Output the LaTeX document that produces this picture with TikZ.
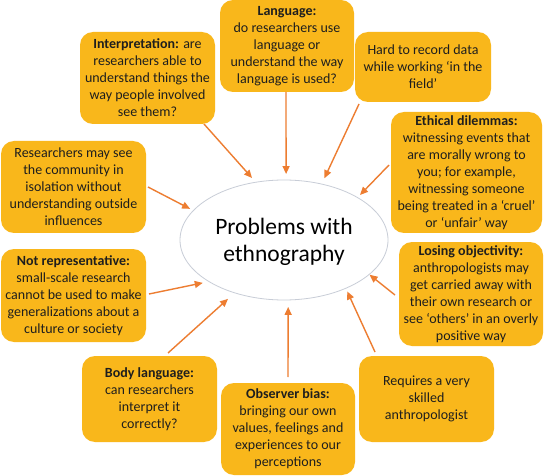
\documentclass[tikz,border=0pt]{standalone}
\usepackage{fontspec}
\setmainfont{Carlito}
\usetikzlibrary{arrows.meta,shapes.geometric}
\definecolor{boxfill}{RGB}{249,183,27}
\definecolor{arrowc}{RGB}{237,125,49}
\definecolor{ellc}{RGB}{200,205,215}
\definecolor{txt}{RGB}{30,30,30}
\begin{document}
\begin{tikzpicture}[x=1pt,y=-1pt,
  box/.style={fill=boxfill,rounded corners=13pt,inner sep=0pt,outer sep=0pt,align=center,
    text=txt,font=\fontsize{14}{17}\selectfont},
  conn/.style={draw=arrowc,line width=1.4pt,-{Triangle[length=8pt,width=7pt]}},
  hub/.style={ellipse,draw=ellc,line width=0.8pt,inner sep=0pt,outer sep=0pt,align=center,
    text depth=0pt,font=\fontsize{23.5}{27}\selectfont}]
\useasboundingbox (0,0) rectangle (544,476);
\fill[white] (0,0) rectangle (544,476);

\node[hub,minimum width=208pt,minimum height=120pt] (center) at (284,240) {Problems with\\ethnography};

\node[box,minimum width=134pt,minimum height=92pt] (lang) at (287,46)
  {\textbf{Language:}\\do researchers use\\language or\\understand the way\\language is used?};
\node[box,minimum width=135pt,minimum height=92pt] (interp) at (147.5,78)
  {\textbf{Interpretation:} are\\researchers able to\\understand things the\\way people involved\\see them?};
\node[box,minimum width=136pt,minimum height=70pt] (hard) at (423,67)
  {Hard to record data\\while working ‘in the\\field’};
\node[box,minimum width=151pt,minimum height=121pt] (ethic) at (466.5,172.5)
  {\textbf{Ethical dilemmas:}\\witnessing events that\\are morally wrong to\\you; for example,\\witnessing someone\\being treated in a ‘cruel’\\or ‘unfair’ way};
\node[box,minimum width=144pt,minimum height=104pt] (losing) at (471,294)
  {\textbf{Losing objectivity:}\\anthropologists may\\get carried away with\\their own research or\\see ‘others’ in an overly\\positive way};
\node[box,minimum width=145pt,minimum height=92pt] (research) at (73.5,187)
  {Researchers may see\\the community in\\isolation without\\understanding outside\\influences};
\node[box,minimum width=145pt,minimum height=93pt] (notrep) at (73.5,295.5)
  {\textbf{Not representative:}\\small-scale research\\cannot be used to make\\generalizations about a\\culture or society};
\node[box,minimum width=135pt,minimum height=86pt] (body) at (149.5,399)
  {\textbf{Body language:}\\can researchers\\interpret it\\correctly?};
\node[box,minimum width=134pt,minimum height=92pt] (observer) at (288,429)
  {\textbf{Observer bias:}\\bringing our own\\values, feelings and\\experiences to our\\perceptions};
\node[box,minimum width=135pt,minimum height=86pt] (requires) at (426.5,399)
  {Requires a very\\skilled\\anthropologist};

\draw[conn,shorten >=5.7pt] ([xshift=56.5pt]interp.south) -- (center.116);
\draw[conn,shorten >=6pt] ([xshift=-1pt]lang.south) -- (center.88);
\draw[conn,shorten >=6.4pt] ([xshift=-64pt,yshift=-2pt]hard.south) -- (center.56.4);
\draw[conn,shorten >=3.6pt] ([xshift=-2pt,yshift=7.5pt]ethic.west) -- (center.30);
\draw[conn,shorten >=0.5pt] ([xshift=-4pt,yshift=-1pt]losing.west) -- (center.-22.4);
\draw[conn,shorten >=3.5pt] ([xshift=-51.5pt,yshift=4pt]requires.north) -- (center.-38.9);
\draw[conn,shorten >=7pt] ([yshift=6pt]observer.north) -- (center.-86.2);
\draw[conn,shorten >=9pt] ([xshift=18.5pt,yshift=3pt]body.north) -- (center.227.1);
\draw[conn,shorten >=6.4pt] ([xshift=3pt,yshift=1.5pt]notrep.east) -- (center.209.2);
\draw[conn,shorten >=3.7pt] ([xshift=2pt]research.east) -- (center.162.1);
\end{tikzpicture}
\end{document}
